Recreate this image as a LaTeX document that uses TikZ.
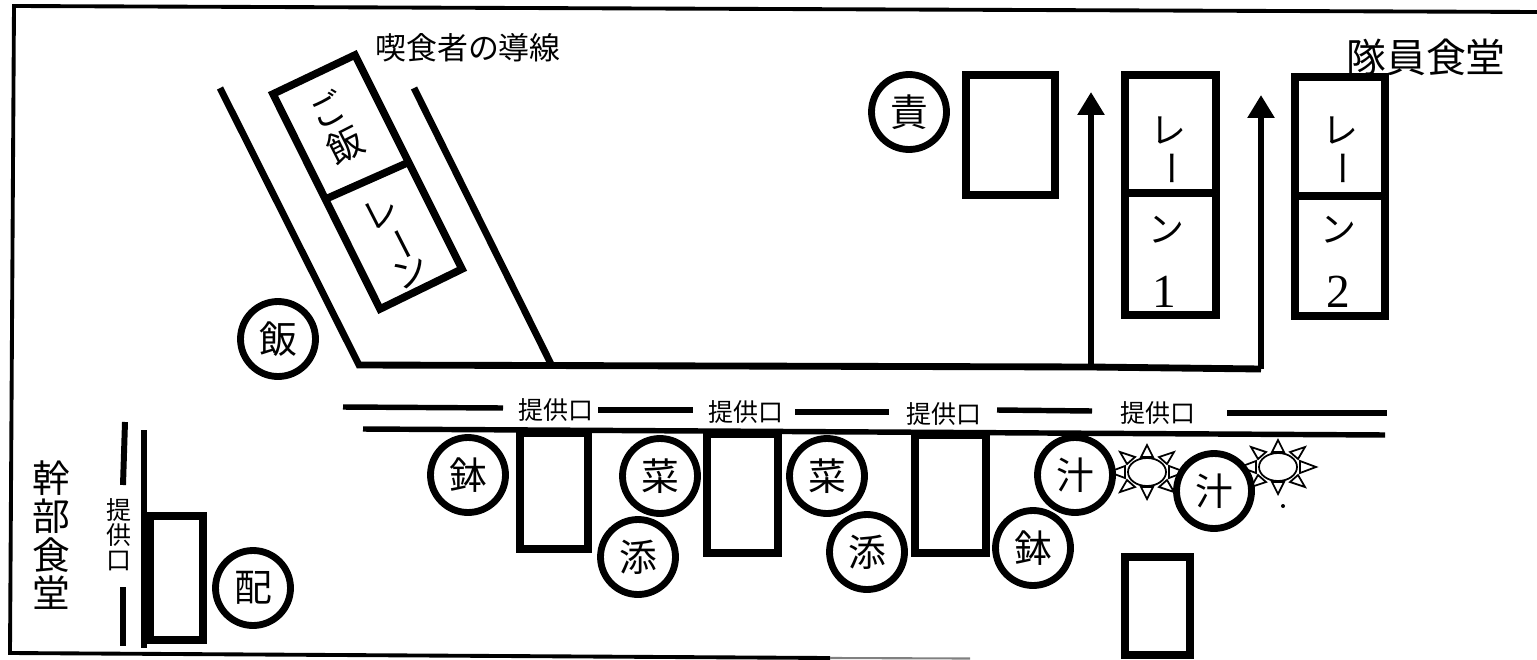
\documentclass[tikz,border=0pt]{standalone}
\usepackage{fontspec}
\setmainfont{Noto Sans CJK JP}
\newfontfamily\digitfont{Liberation Serif}
\usetikzlibrary{arrows.meta}
\def\fsz#1{\fontsize{#1}{#1}\selectfont}
\def\sunmark(#1,#2){
	\begin{scope}[shift={(#1,#2)}]
		\foreach \ax/\ay/\bx/\by/\cx/\cy in {-6/-15/6/-15/0/-27, -6/15/6/15/0/27, 22/-6/22/6/38/0, -22/-6/-22/6/-38/0, 12/-15/20/-8/27/-20, 12/15/20/8/27/20, -12/-15/-20/-8/-27/-20, -12/15/-20/8/-27/20}
			\draw[line width=1pt, fill=white] (\ax,\ay) -- (\bx,\by) -- (\cx,\cy) -- cycle;
		\draw[line width=1pt, fill=white] (0,0) ellipse (19 and 14);
	\end{scope}
}
\tikzset{
	box/.style={line width=4.3pt, fill=white},
	wall/.style={line width=3.9pt},
	counter/.style={line width=3.1pt},
	flow/.style={line width=3.6pt, -{Triangle[length=0.46cm,width=0.52cm]}},
	plate/.style={circle, draw, line width=3.9pt, fill=white, inner sep=0pt, minimum size=1.5cm, font=\fsz{21.5}},
	hatch/.style={inner sep=0pt, font=\fsz{14.2}},
	lane/.style={inner sep=0pt, font=\fsz{20.4}},
	num/.style={inner sep=0pt, font=\digitfont\fsz{27}},
}

\begin{document}
\setlength{\lineskiplimit}{-100pt}
\begin{tikzpicture}[x=0.02cm, y=-0.02cm]
	%%%%% FRAME %%%%%
	\useasboundingbox (0,0) rectangle (1537,659);
	\draw[line width=2.2pt] (1537,12) -- (14,6) -- (10,653) -- (830,658);
	\draw[line width=1.2pt, color=black!50] (830,658) -- (970,658.5);

	%%%%% RICE LANE %%%%%
	\draw[wall] (220,88) -- (360,367);
	\draw[wall] (414,88) -- (552,366);
	\draw[box] (273,94) -- (355,55) -- (462,269) -- (380,309) -- cycle;
	\draw[box] (328,198) -- (407,163);
	\node[inner sep=0pt, rotate=27, align=center, font=\fontsize{20.4}{22.7}\selectfont] (ricename) at (336.5,127.5) {ご\\飯};
	\node[inner sep=0pt, rotate=27, align=center, font=\fontsize{20.4}{18.9}\selectfont] (lane0) at (395.5,242) {レ\\\rotatebox[origin=c]{-90}{ー}\\ン};
	\node[plate] (rice) at (278,339) {飯};
	\node[inner sep=0pt, font=\fsz{17.6}] (route) at (468,48) {喫食者の導線};

	%%%%% MAIN LANES %%%%%
	\draw[box] (966,75) rectangle (1055,195);
	\node[plate] (duty) at (909,112) {責};
	\draw[box] (1125,75) rectangle (1216,315);
	\draw[box] (1125,193) -- (1216,193);
	\node[lane] (re1) at (1168,130) {レ};
	\node[lane, rotate=-90] (bar1) at (1166,168) {ー};
	\node[lane] (n1) at (1166,230) {ン};
	\node[num] (one) at (1164,292) {1};
	\draw[box] (1295,77) rectangle (1385,316);
	\draw[box] (1295,196) -- (1385,196);
	\node[lane] (re2) at (1340,130) {レ};
	\node[lane, rotate=-90] (bar2) at (1337,168) {ー};
	\node[lane] (n2) at (1338,230) {ン};
	\node[num] (two) at (1338,292) {2};
	\node[inner sep=0pt, font=\fsz{22.7}] (staff) at (1426,57) {隊員食堂};

	\coordinate (turnA) at (1091,367);
	\coordinate (turnB) at (1261,369);
	\draw[line width=3.9pt] (358,365) -- (turnA) -- (turnB);
	\draw[flow] (turnA) -- (1091,92);
	\draw[flow] (turnB) -- (1261,95);

	%%%%% SERVING COUNTER %%%%%
	\draw[counter] (343,407) -- (503,408);
	\draw[counter] (598,410) -- (693,410);
	\draw[counter] (795,412) -- (889,412);
	\draw[counter] (997,410) -- (1092,411);
	\draw[counter] (1227,413) -- (1387,413);
	\draw[counter] (363,429) -- (1385,435);
	\node[hatch] (hatchA) at (556,410) {提供口};
	\node[hatch] (hatchB) at (746,412) {提供口};
	\node[hatch] (hatchC) at (944,414) {提供口};
	\node[hatch] (hatchD) at (1158,413) {提供口};

	\draw[box] (520,433) rectangle (588,549);
	\draw[box] (707,434) rectangle (778,553);
	\draw[box] (915,435) rectangle (986,553);
	\draw[box] (1125,557) rectangle (1190,655);

	\sunmark(1147,472)
	\sunmark(1278,467)
	\fill (1283,506) circle (2);

	\node[plate] (bowlA) at (468,475) {鉢};
	\node[plate] (sideA) at (660,476) {菜};
	\node[plate] (addA) at (638,557) {添};
	\node[plate] (sideB) at (827,476) {菜};
	\node[plate] (addB) at (867,552) {添};
	\node[plate] (bowlB) at (1033,548) {鉢};
	\node[plate] (soupA) at (1075,475) {汁};
	\node[plate] (soupB) at (1214,491) {汁};

	%%%%% OFFICERS %%%%%
	\draw[line width=3.4pt] (125,422) -- (123,485);
	\draw[line width=3.4pt] (123,587) -- (123,646);
	\draw[line width=3.4pt] (144,430) -- (144,648);
	\draw[box] (150,516) rectangle (203,640);
	\node[plate] (serve) at (253,588) {配};
	\node[inner sep=0pt, align=center, font=\fontsize{14.2}{14.2}\selectfont] (hatchE) at (119,535) {提\\供\\口};
	\node[inner sep=0pt, align=center, font=\fontsize{21.5}{21.8}\selectfont] (officers) at (51,535) {幹\\部\\食\\堂};
\end{tikzpicture}
\end{document}
